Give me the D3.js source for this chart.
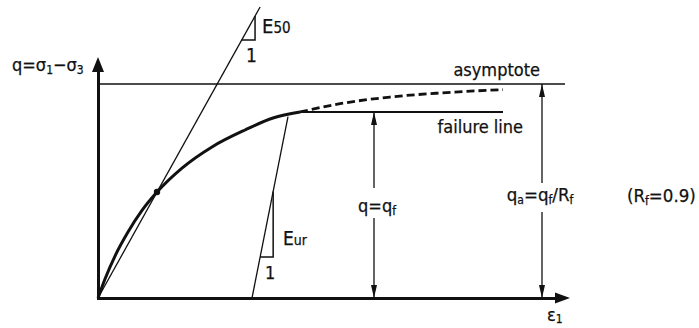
<!DOCTYPE html>
<html><head><meta charset="utf-8">
<script src="https://cdn.jsdelivr.net/npm/d3@7"></script>
<style>
body{margin:0;background:#fff}
svg{display:block}
text{font-family:"DejaVu Sans Condensed","DejaVu Sans",sans-serif;fill:#111;stroke:#111;stroke-width:0.25}
</style>
</head><body>
<svg id="c" width="699" height="328"></svg>
<script>
// ---- data (strain in arbitrary units, deviator stress normalised by q_a) ----
const curveEps = [0, 0.07, 0.17, 0.30, 0.44, 0.59, 0.84, 1.14, 1.47, 1.75, 2.02];
const curveQ   = [0, 0.089, 0.196, 0.308, 0.409, 0.495, 0.607, 0.706, 0.785, 0.841, 0.869];
const dashEps  = [2.02, 2.42, 2.92, 3.42, 4.05];
const dashQ    = [0.869, 0.908, 0.939, 0.958, 0.974];
const qAsym = 1.0;          // q_a
const qFail = 0.869;        // q_f
const asymEnd = 4.67;
const failStart = 2.02, failEnd = 4.05;
const e50Point = [0.59, 0.495];
const e50TopQ = 1.36;
const eurBase = 1.54;
const eurTop = [1.90, 0.847];
const qfDimEps = 2.76;
const qaDimEps = 4.44;

const svg = d3.select("#c");
const x = d3.scaleLinear().domain([0, 4.57]).range([98, 555]);
const y = d3.scaleLinear().domain([0, 1]).range([298, 84]);
const yAxisScale = d3.scaleLinear().domain([0, y.invert(72)]).range([298, 72]);
const ink = "#111";

// axes
svg.append("g").attr("transform", `translate(0,${y(0)})`)
  .call(d3.axisBottom(x).tickValues([]).tickSizeOuter(0));
svg.append("g").attr("transform", `translate(${x(0)},0)`)
  .call(d3.axisLeft(yAxisScale).tickValues([]).tickSizeOuter(0));
svg.selectAll(".domain").attr("stroke", ink).attr("stroke-width", 3).attr("stroke-linecap", "square");

function arrow(px, py, dir, len, hw) {
  let pts;
  if (dir === "up") pts = [[px, py], [px - hw, py + len], [px + hw, py + len]];
  else if (dir === "down") pts = [[px, py], [px - hw, py - len], [px + hw, py - len]];
  else pts = [[px, py], [px - len, py - hw], [px - len, py + hw]];
  svg.append("path").attr("d", "M" + pts.join("L") + "Z").attr("fill", ink);
}
arrow(x(0), 57, "up", 15, 6);
arrow(570, y(0), "right", 15, 5.5);

// asymptote
svg.append("line").attr("x1", x(0)).attr("x2", x(asymEnd)).attr("y1", y(qAsym)).attr("y2", y(qAsym))
  .attr("stroke", ink).attr("stroke-width", 1.3);
// failure line
svg.append("line").attr("x1", x(failStart)).attr("x2", x(failEnd)).attr("y1", y(qFail)).attr("y2", y(qFail))
  .attr("stroke", ink).attr("stroke-width", 2);

// E50 line
const e50Slope = e50Point[1] / e50Point[0];
svg.append("line").attr("x1", x(0)).attr("y1", y(0)).attr("x2", x(e50TopQ / e50Slope)).attr("y2", y(e50TopQ))
  .attr("stroke", ink).attr("stroke-width", 1.3);
const t50q = 1.206, t50dx = 0.133;
const t50e = t50q / e50Slope;
svg.append("path").attr("d",
  `M${x(t50e)},${y(t50q)}H${x(t50e + t50dx)}V${y(e50Slope * (t50e + t50dx))}`)
  .attr("fill", "none").attr("stroke", ink).attr("stroke-width", 1.5);

// Eur line
const eurSlope = eurTop[1] / (eurTop[0] - eurBase);
svg.append("line").attr("x1", x(eurBase)).attr("y1", y(0)).attr("x2", x(eurTop[0])).attr("y2", y(eurTop[1]))
  .attr("stroke", ink).attr("stroke-width", 1.3);
const turq = 0.192, turdx = 0.13;
const ture = eurBase + turq / eurSlope;
svg.append("path").attr("d",
  `M${x(ture)},${y(turq)}H${x(ture + turdx)}V${y(eurSlope * (ture + turdx - eurBase))}`)
  .attr("fill", "none").attr("stroke", ink).attr("stroke-width", 1.5);

// curve
const line = d3.line().x(d => x(d[0])).y(d => y(d[1])).curve(d3.curveMonotoneX);
svg.append("path").datum(curveEps.map((e, i) => [e, curveQ[i]])).attr("d", line)
  .attr("fill", "none").attr("stroke", ink).attr("stroke-width", 3);
svg.append("path").datum(dashEps.map((e, i) => [e, dashQ[i]])).attr("d", line)
  .attr("fill", "none").attr("stroke", ink).attr("stroke-width", 2.8).attr("stroke-dasharray", "8,4");
svg.append("circle").attr("cx", x(e50Point[0])).attr("cy", y(e50Point[1])).attr("r", 3.2).attr("fill", ink);

// dimension arrows
function dim(eps, qTop, gapTop, gapBot) {
  const px = x(eps);
  svg.append("line").attr("x1", px).attr("x2", px).attr("y1", y(qTop)).attr("y2", gapTop)
    .attr("stroke", ink).attr("stroke-width", 1.3);
  svg.append("line").attr("x1", px).attr("x2", px).attr("y1", gapBot).attr("y2", y(0))
    .attr("stroke", ink).attr("stroke-width", 1.3);
  arrow(px, y(qTop), "up", 13, 3);
  arrow(px, y(0), "down", 13, 3);
}
dim(qfDimEps, qFail, 188, 218);
dim(qaDimEps, qAsym, 183, 212);

// text helper: parts are strings or {t, sub, size}
function label(px, py, parts, size, anchor) {
  const t = svg.append("text").attr("x", px).attr("y", py).attr("font-size", size)
    .attr("text-anchor", anchor || "start");
  let pending = 0;
  parts.forEach(p => {
    const s = t.append("tspan");
    if (typeof p === "string") {
      s.text(p);
      if (pending) s.attr("dy", -pending);
      pending = 0;
    } else {
      s.text(p.t).attr("font-size", p.size || Math.round(size * 0.65));
      const d = (p.sub || 0) - pending;
      if (d) s.attr("dy", d);
      pending = p.sub || 0;
    }
  });
  return t;
}
label(12, 71, ["q=σ", {t: "1", sub: 3}, "−σ", {t: "3", sub: 3}], 18);
label(262, 33, ["E", {t: "50", size: 15}], 20);
label(246, 62, ["1"], 19);
label(540, 76, ["asymptote"], 18, "end");
label(523, 133, ["failure line"], 18, "end");
label(377, 212, ["q=q", {t: "f", sub: 3}], 18, "middle");
label(540, 201, ["q", {t: "a", sub: 3}, "=q", {t: "f", sub: 3}, "/R", {t: "f", sub: 3}], 18.5, "middle");
label(627, 202, ["(R", {t: "f", sub: 3}, "=0.9)"], 18.5);
label(283, 245, ["E", {t: "ur", size: 14}], 19);
label(265, 279, ["1"], 18);
label(547, 321, ["ε", {t: "1", sub: 2}], 18);
</script>
</body></html>
